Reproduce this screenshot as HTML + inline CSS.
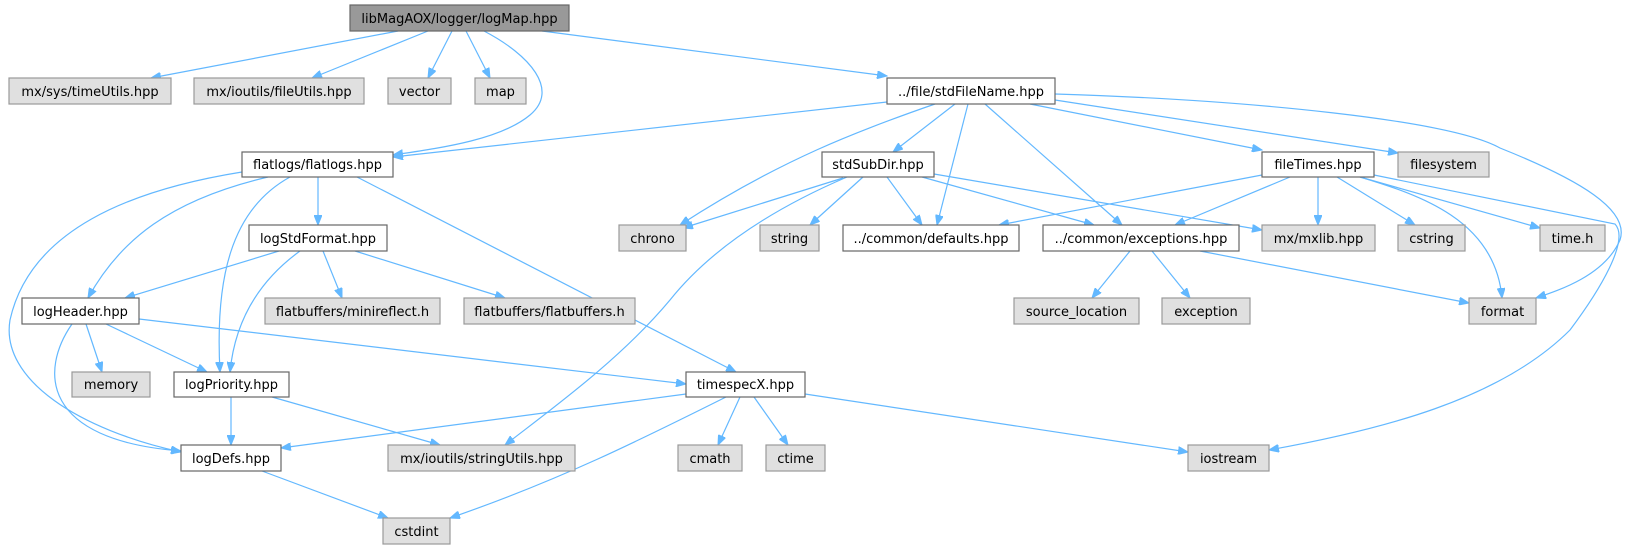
<!DOCTYPE html>
<html><head><meta charset="utf-8"><style>
html,body{margin:0;padding:0;background:#fff;width:1629px;height:549px;overflow:hidden}
svg text{font-family:"DejaVu Sans","Liberation Sans",sans-serif;font-size:13px;fill:#000;text-anchor:middle}
.e{fill:none;stroke:#63b8ff;stroke-width:1.2;marker-end:url(#a)}
.w{fill:#fff;stroke:#666;stroke-width:1.2}
.g{fill:#e0e0e0;stroke:#999;stroke-width:1.2}
.r{fill:#999;stroke:#666;stroke-width:1.2}
</style></head><body>
<svg width="1629" height="549" viewBox="0 0 1629 549" xmlns="http://www.w3.org/2000/svg">
<defs><marker id="a" markerWidth="11" markerHeight="8" refX="10" refY="4" orient="auto" markerUnits="userSpaceOnUse"><path d="M0,0 L10,4 L0,8 z" fill="#63b8ff" stroke="#63b8ff"/></marker></defs>
<g>
<path class="e" d="M398,31 L151,78"/>
<path class="e" d="M428,31 L312,78"/>
<path class="e" d="M452,31 L428,78"/>
<path class="e" d="M466,31 L490,78"/>
<path class="e" d="M484,31 C530,55 560,90 530,115 C500,140 440,148 393,155"/>
<path class="e" d="M542,31 L887,76"/>
<path class="e" d="M887,102 L393,157"/>
<path class="e" d="M935,104 C860,130 780,160 680,225"/>
<path class="e" d="M955,104 L893,152"/>
<path class="e" d="M968,104 L937,225"/>
<path class="e" d="M985,104 L1122,225"/>
<path class="e" d="M1030,104 L1262,150"/>
<path class="e" d="M1055,100 L1398,153"/>
<path class="e" d="M1055,94 C1250,100 1450,120 1500,148 C1580,180 1630,210 1620,240 C1605,275 1560,290 1536,298"/>
<path class="e" d="M242,172 C130,190 30,230 10,320 C0,380 80,430 181,452"/>
<path class="e" d="M268,177 C170,200 120,240 88,298"/>
<path class="e" d="M290,177 C230,210 215,280 220,372"/>
<path class="e" d="M318,177 L318,225"/>
<path class="e" d="M357,177 L736,372"/>
<path class="e" d="M279,251 L125,298"/>
<path class="e" d="M300,251 C260,280 235,320 230,372"/>
<path class="e" d="M323,251 L342,298"/>
<path class="e" d="M355,251 L505,298"/>
<path class="e" d="M843,178 L683,228"/>
<path class="e" d="M847,177 C770,210 710,250 670,300 C620,360 550,410 505,445"/>
<path class="e" d="M863,177 L810,225"/>
<path class="e" d="M887,177 L922,225"/>
<path class="e" d="M922,177 L1094,225"/>
<path class="e" d="M934,174 L1262,230"/>
<path class="e" d="M1262,175 L999,225"/>
<path class="e" d="M1290,177 L1175,225"/>
<path class="e" d="M1318,177 L1318,225"/>
<path class="e" d="M1337,177 L1415,225"/>
<path class="e" d="M1360,177 L1540,228"/>
<path class="e" d="M1360,177 C1420,195 1495,220 1502,298"/>
<path class="e" d="M1374,175 L1615,224 C1630,240 1600,290 1570,330 C1500,400 1380,430 1269,450"/>
<path class="e" d="M1130,251 L1092,298"/>
<path class="e" d="M1152,251 L1190,298"/>
<path class="e" d="M1200,251 L1469,303"/>
<path class="e" d="M72,324 C40,370 40,440 181,451"/>
<path class="e" d="M86,324 L102,372"/>
<path class="e" d="M106,324 L207,372"/>
<path class="e" d="M139,319 L686,384"/>
<path class="e" d="M231,397 L231,445"/>
<path class="e" d="M272,397 L440,445"/>
<path class="e" d="M686,394 L281,448"/>
<path class="e" d="M726,397 C640,440 560,480 450,518"/>
<path class="e" d="M740,397 L718,445"/>
<path class="e" d="M754,397 L788,445"/>
<path class="e" d="M805,394 L1188,452"/>
<path class="e" d="M262,471 L388,518"/>
</g>
<g>
<rect class="r" x="350" y="5" width="219" height="26"/><text x="459.5" y="23">libMagAOX/logger/logMap.hpp</text>
<rect class="g" x="9" y="78" width="162" height="26"/><text x="90" y="96">mx/sys/timeUtils.hpp</text>
<rect class="g" x="194" y="78" width="170" height="26"/><text x="279" y="96">mx/ioutils/fileUtils.hpp</text>
<rect class="g" x="388" y="78" width="63" height="26"/><text x="419.5" y="96">vector</text>
<rect class="g" x="475" y="78" width="51" height="26"/><text x="500.5" y="96">map</text>
<rect class="w" x="887" y="78" width="168" height="26"/><text x="971" y="96">../file/stdFileName.hpp</text>
<rect class="w" x="242" y="152" width="151" height="25"/><text x="317.5" y="169">flatlogs/flatlogs.hpp</text>
<rect class="w" x="822" y="152" width="112" height="25"/><text x="878" y="169">stdSubDir.hpp</text>
<rect class="w" x="1262" y="152" width="112" height="25"/><text x="1318" y="169">fileTimes.hpp</text>
<rect class="g" x="1398" y="152" width="91" height="25"/><text x="1443.5" y="169">filesystem</text>
<rect class="w" x="249" y="225" width="138" height="26"/><text x="318" y="243">logStdFormat.hpp</text>
<rect class="g" x="619" y="225" width="67" height="26"/><text x="652.5" y="243">chrono</text>
<rect class="g" x="760" y="225" width="59" height="26"/><text x="789.5" y="243">string</text>
<rect class="w" x="843" y="225" width="176" height="26"/><text x="931" y="243">../common/defaults.hpp</text>
<rect class="w" x="1043" y="225" width="196" height="26"/><text x="1141" y="243">../common/exceptions.hpp</text>
<rect class="g" x="1262" y="225" width="113" height="26"/><text x="1318.5" y="243">mx/mxlib.hpp</text>
<rect class="g" x="1398" y="225" width="67" height="26"/><text x="1431.5" y="243">cstring</text>
<rect class="g" x="1540" y="225" width="65" height="26"/><text x="1572.5" y="243">time.h</text>
<rect class="w" x="22" y="298" width="117" height="26"/><text x="80.5" y="316">logHeader.hpp</text>
<rect class="g" x="265" y="298" width="175" height="26"/><text x="352.5" y="316">flatbuffers/minireflect.h</text>
<rect class="g" x="464" y="298" width="171" height="26"/><text x="549.5" y="316">flatbuffers/flatbuffers.h</text>
<rect class="g" x="1014" y="298" width="125" height="26"/><text x="1076.5" y="316">source_location</text>
<rect class="g" x="1162" y="298" width="88" height="26"/><text x="1206" y="316">exception</text>
<rect class="g" x="1469" y="298" width="67" height="26"/><text x="1502.5" y="316">format</text>
<rect class="g" x="72" y="372" width="78" height="25"/><text x="111" y="389">memory</text>
<rect class="w" x="174" y="372" width="115" height="25"/><text x="231.5" y="389">logPriority.hpp</text>
<rect class="w" x="686" y="372" width="119" height="25"/><text x="745.5" y="389">timespecX.hpp</text>
<rect class="w" x="181" y="445" width="100" height="26"/><text x="231" y="463">logDefs.hpp</text>
<rect class="g" x="388" y="445" width="187" height="26"/><text x="481.5" y="463">mx/ioutils/stringUtils.hpp</text>
<rect class="g" x="678" y="445" width="64" height="26"/><text x="710" y="463">cmath</text>
<rect class="g" x="766" y="445" width="59" height="26"/><text x="795.5" y="463">ctime</text>
<rect class="g" x="1188" y="445" width="81" height="26"/><text x="1228.5" y="463">iostream</text>
<rect class="g" x="383" y="518" width="67" height="26"/><text x="416.5" y="536">cstdint</text>
</g>
</svg>
</body></html>
